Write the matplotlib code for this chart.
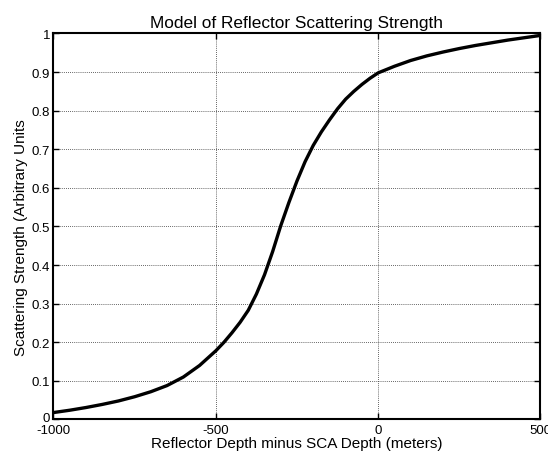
import matplotlib
matplotlib.use("Agg")
import matplotlib.pyplot as plt
from matplotlib.transforms import ScaledTranslation

# depth offset (m) and scattering strength
depth = [-1000, -950, -900, -850, -800, -750, -700, -650, -600, -550, -500,
         -475, -450, -425, -400, -375, -350, -325, -300, -275, -250, -225,
         -200, -175, -150, -125, -100, -75, -50, -25, 0,
         50, 100, 150, 200, 250, 300, 350, 400, 450, 500]
strength = [0.018, 0.024, 0.031, 0.039, 0.048, 0.059, 0.072, 0.088, 0.11, 0.14, 0.178,
            0.2, 0.225, 0.252, 0.283, 0.325, 0.375, 0.435, 0.502, 0.562, 0.618, 0.668,
            0.71, 0.745, 0.776, 0.805, 0.83, 0.85, 0.868, 0.884, 0.898,
            0.915, 0.93, 0.942, 0.952, 0.961, 0.969, 0.976, 0.983, 0.989, 0.995]

x_ticks = [-1000, -500, 0, 500]
y_ticks = [0, 0.1, 0.2, 0.3, 0.4, 0.5, 0.6, 0.7, 0.8, 0.9, 1]
y_labels = ["0", "0.1", "0.2", "0.3", "0.4", "0.5", "0.6", "0.7", "0.8", "0.9", "1"]

plt.rcParams["font.family"] = ["Liberation Sans", "DejaVu Sans"]

fig = plt.figure(figsize=(5.48, 4.52), dpi=100)
ax = fig.add_axes([0.0976, 0.0697, 0.8887, 0.854])

ax.plot(depth, strength, color="black", linewidth=2.4,
        solid_joinstyle="round", solid_capstyle="round")

ax.set_xlim(-1000, 500)
ax.set_ylim(0, 1)
ax.set_xticks(x_ticks)
ax.set_xticklabels([str(t) for t in x_ticks])
ax.set_yticks(y_ticks)
ax.set_yticklabels(y_labels)
ax.tick_params(direction="in", length=4, width=1, labelsize=9.5, top=True, right=True)
ax.tick_params(axis="x", pad=3)
ax.tick_params(axis="y", pad=2.5)
ax.grid(True, color="#333333", linestyle=(0, (1, 1.5)), linewidth=0.6)

for side in ax.spines.values():
    side.set_linewidth(1.5)

# the "0" on the y axis sits a little higher, clear of "-1000"
zero_label = ax.get_yticklabels()[0]
zero_label.set_transform(zero_label.get_transform()
                         + ScaledTranslation(0, 3 / 100, fig.dpi_scale_trans))

ax.set_title("Model of Reflector Scattering Strength", fontsize=12.4, pad=4.5)
ax.set_xlabel("Reflector Depth minus SCA Depth (meters)", fontsize=11)
ax.set_ylabel("Scattering Strength (Arbitrary Units", fontsize=11)
ax.xaxis.set_label_coords(0.5, -0.043)
ax.yaxis.set_label_coords(-0.053, 0.475)

fig.savefig("out.png", dpi=100)
